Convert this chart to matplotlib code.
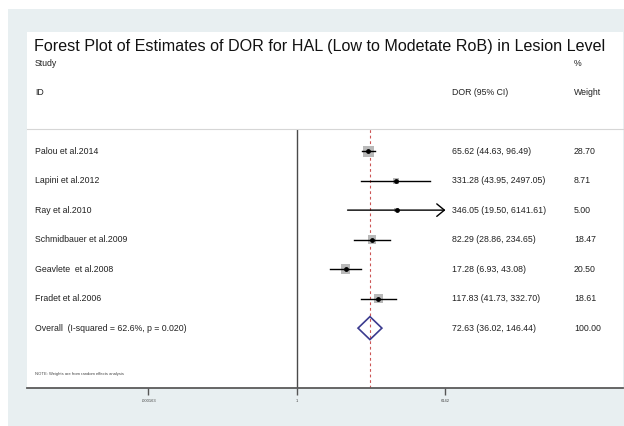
import numpy as np
import matplotlib
matplotlib.use("Agg")
import matplotlib.pyplot as plt
from matplotlib.patches import Rectangle, Polygon
from matplotlib.transforms import blended_transform_factory

plt.rcParams['font.family'] = ['Liberation Sans', 'DejaVu Sans']

studies = ["Palou et al.2014", "Lapini et al.2012", "Ray et al.2010",
           "Schmidbauer et al.2009", "Geavlete  et al.2008", "Fradet et al.2006"]
dor = [65.62, 331.28, 346.05, 82.29, 17.28, 117.83]
ci_lo = [44.63, 43.95, 19.50, 28.86, 6.93, 41.73]
ci_hi = [96.49, 2497.05, 6141.61, 234.65, 43.08, 332.70]
weights = [28.70, 8.71, 5.00, 18.47, 20.50, 18.61]
overall_label = "Overall  (I-squared = 62.6%, p = 0.020)"
overall = 72.63
overall_lo = 36.02
overall_hi = 146.44
overall_weight = 100.00
tick_vals = [1/6142, 1, 6142]
tick_labels = [".000163", "1", "6142"]

W, H = 624, 426
fig = plt.figure(figsize=(W/100, H/100), dpi=100)
fig.patch.set_facecolor('white')

def fx(px):
    return px / W

def fy(py):
    return 1 - py / H

light = '#e8eff1'
fig.patches.append(Rectangle((fx(8), 0), 1 - fx(8), fy(9), transform=fig.transFigure,
                             facecolor=light, edgecolor='none', zorder=-10))
fig.patches.append(Rectangle((fx(27), fy(388)), fx(623) - fx(27), fy(32) - fy(388),
                             transform=fig.transFigure, facecolor='white',
                             edgecolor='none', zorder=-9))

ax = fig.add_axes([fx(27), fy(388), fx(623) - fx(27), fy(129) - fy(388)])
ax.set_facecolor('none')
ax.set_xscale('log')
ax.set_xlim(np.exp(-15.86), np.exp(19.15))
ax.set_ylim(9.03, 0.25)

for s in ['left', 'right']:
    ax.spines[s].set_visible(False)
ax.spines['top'].set_color('#d6d6d6')
ax.spines['top'].set_linewidth(0.8)
ax.spines['bottom'].set_color('#5a5a5a')
ax.spines['bottom'].set_linewidth(1.3)

ax.set_yticks([])
ax.set_xticks(tick_vals)
ax.set_xticklabels(tick_labels, fontsize=3)
ax.xaxis.set_minor_locator(matplotlib.ticker.NullLocator())
ax.tick_params(axis='x', length=5, width=1, color='#555555', pad=3, labelcolor='#444444')

# null line and overall line
ax.axvline(1, color='#4a4a4a', lw=1.0, zorder=1)
ax.axvline(overall, color='#cc5555', lw=0.8, ls=(0, (2.5, 2.5)), zorder=1)

rows = np.arange(1, len(studies) + 1)
for i, y in enumerate(rows):
    side_px = 11.0 * np.sqrt(weights[i] / max(weights))
    side_pt = side_px * 72 / 100
    ax.scatter([dor[i]], [y], marker='s', s=side_pt**2, color='#b9b9b9',
               edgecolors='none', zorder=2)
    if ci_hi[i] >= 6141:
        ax.annotate('', xy=(ci_hi[i], y), xytext=(ci_lo[i], y),
                    arrowprops=dict(arrowstyle='->,head_length=0.55,head_width=0.45',
                                    lw=1.0, color='black', shrinkA=0, shrinkB=0),
                    zorder=3)
    else:
        ax.plot([ci_lo[i], ci_hi[i]], [y, y], color='black', lw=1.0, zorder=3)
    ax.scatter([dor[i]], [y], marker='o', s=6, color='black', zorder=4)

yo = len(studies) + 1
dh = 0.39
diamond = Polygon([[overall_lo, yo], [overall, yo - dh], [overall_hi, yo], [overall, yo + dh]],
                  closed=True, facecolor='none', edgecolor='#3b3b8f', lw=1.2, zorder=4)
ax.add_patch(diamond)

tr = blended_transform_factory(fig.transFigure, ax.transData)
fs = 6.3
tc = '#222222'
for i, y in enumerate(rows):
    ax.text(fx(35), y, studies[i], transform=tr, fontsize=fs, va='center', ha='left', color=tc)
    ax.text(fx(452), y, f"{dor[i]:.2f} ({ci_lo[i]:.2f}, {ci_hi[i]:.2f})", transform=tr,
            fontsize=fs, va='center', ha='left', color=tc)
    ax.text(fx(574), y, f"{weights[i]:.2f}", transform=tr, fontsize=fs, va='center',
            ha='left', color=tc)
ax.text(fx(35), yo, overall_label, transform=tr, fontsize=fs, va='center', ha='left', color=tc)
ax.text(fx(452), yo, f"{overall:.2f} ({overall_lo:.2f}, {overall_hi:.2f})", transform=tr,
        fontsize=fs, va='center', ha='left', color=tc)
ax.text(fx(574), yo, f"{overall_weight:.2f}", transform=tr, fontsize=fs, va='center',
        ha='left', color=tc)

fig.text(fx(35), fy(374), "NOTE: Weights are from random effects analysis", fontsize=3,
         va='center', ha='left', color='#444444')

# headers
fig.text(fx(320), fy(46), "Forest Plot of Estimates of DOR for HAL (Low to Modetate RoB) in Lesion Level",
         fontsize=11.6, ha='center', va='center', color='#111111')
fig.text(fx(35), fy(64), "Study", fontsize=fs, ha='left', va='center', color=tc)
fig.text(fx(35), fy(93), "ID", fontsize=fs, ha='left', va='center', color=tc)
fig.text(fx(452), fy(93), "DOR (95% CI)", fontsize=fs, ha='left', va='center', color=tc)
fig.text(fx(574), fy(64), "%", fontsize=fs, ha='left', va='center', color=tc)
fig.text(fx(574), fy(93), "Weight", fontsize=fs, ha='left', va='center', color=tc)

fig.savefig("out.png", dpi=100)
